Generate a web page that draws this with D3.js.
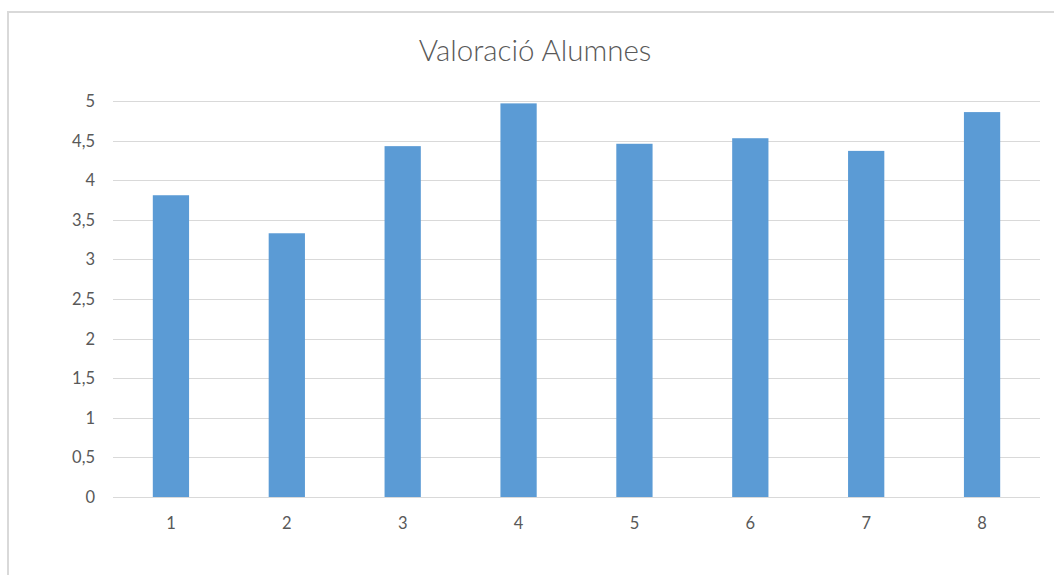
<!DOCTYPE html>
<html>
<head>
<meta charset="utf-8">
<script src="https://d3js.org/d3.v7.min.js"></script>
<style>
  body { margin: 0; background: #fff; }
  text { font-family: Lato, "Open Sans", sans-serif; fill: #595959; }
</style>
</head>
<body>
<svg width="1054" height="575"></svg>
<script>
// data
const categories = ["1", "2", "3", "4", "5", "6", "7", "8"];
const values = [3.81, 3.33, 4.43, 4.97, 4.46, 4.53, 4.37, 4.86];
const yTicks = [0, 0.5, 1, 1.5, 2, 2.5, 3, 3.5, 4, 4.5, 5];
const title = "Valoració Alumnes";

const svg = d3.select("svg");
const margin = { top: 101, left: 113, right: 14, bottom: 78 };
const width = 1054 - margin.left - margin.right,
      height = 575 - margin.top - margin.bottom;

// chart frame (only top and left edges are in view)
svg.append("path")
  .attr("d", "M8,575 V12 H1054")
  .attr("fill", "none")
  .attr("stroke", "#d9d9d9")
  .attr("stroke-width", 2);

svg.append("text")
  .attr("x", 535)
  .attr("y", 61)
  .attr("text-anchor", "middle")
  .attr("font-size", "29.5px")
  .style("font-weight", 300)
  .text(title);

const g = svg.append("g").attr("transform", "translate(" + margin.left + "," + margin.top + ")");

const x = d3.scaleBand().domain(categories).range([0, width]).paddingInner(0.687).paddingOuter(0.3435);
const y = d3.scaleLinear().domain([0, 5]).range([height, 0]);

// gridlines
g.selectAll(".grid")
  .data(yTicks)
  .enter().append("line")
  .attr("x1", 0).attr("x2", width)
  .attr("y1", d => Math.round(y(d)) + 0.5)
  .attr("y2", d => Math.round(y(d)) + 0.5)
  .attr("stroke", "#d9d9d9")
  .attr("stroke-width", 1);

// y labels
const fmt = d => String(d).replace(".", ",");
g.selectAll(".ylab")
  .data(yTicks)
  .enter().append("text")
  .attr("x", -18)
  .attr("y", d => y(d))
  .attr("dy", "0.36em")
  .attr("text-anchor", "end")
  .attr("font-size", "16.5px")
  .text(fmt);

// bars
g.selectAll(".bar")
  .data(values)
  .enter().append("rect")
  .attr("x", (d, i) => x(categories[i]))
  .attr("width", x.bandwidth())
  .attr("y", d => y(d))
  .attr("height", d => y(0) - y(d))
  .attr("fill", "#5b9bd5");

// x labels
g.selectAll(".xlab")
  .data(categories)
  .enter().append("text")
  .attr("x", d => x(d) + x.bandwidth() / 2)
  .attr("y", height + 26)
  .attr("dy", "0.36em")
  .attr("text-anchor", "middle")
  .attr("font-size", "16.5px")
  .text(d => d);
</script>
</body>
</html>
